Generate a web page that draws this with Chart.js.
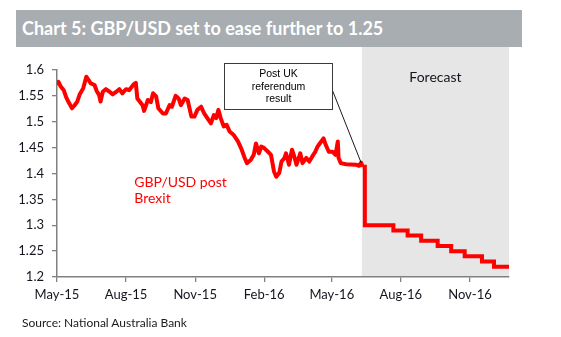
<!DOCTYPE html>
<html><head><meta charset="utf-8">
<script src="https://cdn.jsdelivr.net/npm/chart.js@4/dist/chart.umd.min.js"></script>
<style>
html,body{margin:0;padding:0;background:#fff;}
#wrap{position:relative;width:561px;height:337px;overflow:hidden;}
#title{position:absolute;left:16px;top:10px;width:506px;height:37px;background:#a7adb1;color:#fff;font-family:Lato,'Open Sans',sans-serif;font-weight:bold;font-size:18px;line-height:37px;padding-left:6px;box-sizing:border-box;white-space:nowrap;}
#source{position:absolute;left:22px;top:315px;font-family:Lato,sans-serif;font-size:12px;color:#1a1a1a;white-space:nowrap;}
canvas{position:absolute;left:0;top:0;}
</style></head>
<body>
<div id="wrap">
<canvas id="c" width="561" height="337"></canvas>
<div id="title">Chart 5: GBP/USD set to ease further to 1.25</div>
<div id="source">Source: National Australia Bank</div>
</div>
<script>
const histDates = ['2015-05-01','2015-05-03','2015-05-06','2015-05-10','2015-05-13','2015-05-16','2015-05-21','2015-05-24','2015-05-28','2015-05-31',
'2015-06-05','2015-06-09','2015-06-12','2015-06-15','2015-06-20','2015-06-23','2015-06-26','2015-06-28','2015-07-01','2015-07-05',
'2015-07-10','2015-07-14','2015-07-19','2015-07-23','2015-07-27','2015-08-01','2015-08-05','2015-08-11','2015-08-14','2015-08-16',
'2015-08-23','2015-08-25','2015-08-30','2015-09-03','2015-09-06','2015-09-10','2015-09-13','2015-09-19','2015-09-23','2015-09-28',
'2015-10-01','2015-10-06','2015-10-10','2015-10-13','2015-10-18','2015-10-22','2015-10-27','2015-10-31','2015-11-04','2015-11-09',
'2015-11-13','2015-11-19','2015-11-22','2015-11-26','2015-11-29','2015-12-02','2015-12-05','2015-12-09','2015-12-13','2015-12-17',
'2015-12-22','2015-12-28','2016-01-02','2016-01-06','2016-01-09','2016-01-14','2016-01-18','2016-01-21','2016-01-25','2016-01-28',
'2016-02-01','2016-02-06','2016-02-10','2016-02-14','2016-02-17','2016-02-21','2016-02-24','2016-02-28','2016-03-01','2016-03-05',
'2016-03-09','2016-03-12','2016-03-15','2016-03-20','2016-03-23','2016-03-28','2016-04-01','2016-04-05','2016-04-09','2016-04-12',
'2016-04-15','2016-04-20','2016-04-23','2016-04-27','2016-05-02','2016-05-06','2016-05-09','2016-05-10','2016-05-13','2016-05-20',
'2016-06-02','2016-06-06','2016-06-09','2016-06-11'];
const histValues = [1.571,1.577,1.568,1.561,1.548,1.539,1.526,1.531,1.539,1.552,
1.565,1.587,1.581,1.574,1.571,1.559,1.552,1.539,1.558,1.563,
1.558,1.553,1.558,1.563,1.555,1.563,1.561,1.572,1.575,1.545,
1.532,1.521,1.542,1.538,1.555,1.549,1.526,1.516,1.516,1.532,
1.529,1.550,1.545,1.532,1.545,1.542,1.510,1.510,1.523,1.529,
1.516,1.503,1.497,1.513,1.507,1.523,1.507,1.491,1.494,1.481,
1.475,1.462,1.446,1.430,1.420,1.426,1.436,1.458,1.439,1.452,
1.449,1.442,1.436,1.404,1.394,1.401,1.423,1.430,1.439,1.417,
1.446,1.433,1.417,1.439,1.420,1.430,1.423,1.433,1.442,1.452,
1.458,1.468,1.455,1.442,1.442,1.436,1.462,1.430,1.420,1.418,
1.417,1.415,1.421,1.413];
const forecastDates = ['2016-06-14','2016-07-22','2016-08-10','2016-08-28','2016-09-19','2016-10-07','2016-10-25','2016-11-17','2016-12-03','2016-12-23'];
const forecastValues = [1.30,1.29,1.28,1.27,1.26,1.25,1.24,1.23,1.22,1.22];
const xTickDates = ['2015-05-01','2015-08-01','2015-11-01','2016-02-01','2016-05-01','2016-08-01','2016-11-01'];
const xTickLabels = ['May-15','Aug-15','Nov-15','Feb-16','May-16','Aug-16','Nov-16'];
const xStart = '2015-05-01', xEnd = '2016-12-23';
const forecastStart = '2016-06-10';
const yMin = 1.2, yMax = 1.6, yStep = 0.05;
const seriesLabel = ['GBP/USD post', 'Brexit'];
const noteLines = ['Post UK', 'referendum', 'result'];
const forecastLabel = 'Forecast';

const base = Date.parse(xStart + 'T00:00:00Z');
const day = d => (Date.parse(d + 'T00:00:00Z') - base) / 86400000;

const histData = histDates.map((d, i) => ({x: day(d), y: histValues[i]}));
const fcData = [histData[histData.length - 1]].concat(forecastDates.map((d, i) => ({x: day(d), y: forecastValues[i]})));

const TXT = '#15151f';
const decor = {
  id: 'decor',
  beforeDraw(chart) {
    const {ctx, chartArea, scales} = chart;
    const x0 = scales.x.getPixelForValue(day(forecastStart));
    ctx.save();
    ctx.fillStyle = '#e6e6e6';
    ctx.fillRect(x0, chartArea.top - 23, chartArea.right - x0, chartArea.bottom - chartArea.top + 23);
    ctx.fillStyle = TXT;
    ctx.font = '14px Lato, sans-serif';
    ctx.textAlign = 'center';
    ctx.textBaseline = 'middle';
    ctx.fillText(forecastLabel, (x0 + chartArea.right) / 2, chartArea.top + 7);
    ctx.restore();
  },
  afterDatasetsDraw(chart) {
    const {ctx, scales} = chart;
    const xs = scales.x, ys = scales.y;
    ctx.save();
    ctx.fillStyle = '#ff0000';
    ctx.font = '14px Lato, sans-serif';
    ctx.textAlign = 'left';
    ctx.textBaseline = 'middle';
    const lx = xs.getPixelForValue(day('2015-08-12'));
    const ly = ys.getPixelForValue(1.382);
    seriesLabel.forEach((t, i) => ctx.fillText(t, lx, ly + i * 15.5));
    const cx = xs.getPixelForValue(day('2016-02-19'));
    const cy = ys.getPixelForValue(1.569);
    const bw = 108, bh = 46;
    const bx = Math.round(cx - bw / 2) + 0.5, by = Math.round(cy - bh / 2) + 0.5;
    const px = xs.getPixelForValue(day('2016-06-09'));
    const py = ys.getPixelForValue(1.421);
    ctx.strokeStyle = '#000';
    ctx.lineWidth = 0.9;
    ctx.beginPath();
    ctx.moveTo(bx + bw, by + 27);
    ctx.lineTo(px, py);
    ctx.stroke();
    ctx.fillStyle = '#fff';
    ctx.fillRect(bx, by, bw, bh);
    ctx.strokeStyle = '#3a3a3a';
    ctx.lineWidth = 1;
    ctx.strokeRect(bx, by, bw, bh);
    ctx.fillStyle = '#000';
    ctx.font = '10.5px "Liberation Sans", Arial, sans-serif';
    ctx.textAlign = 'center';
    noteLines.forEach((t, i) => ctx.fillText(t, bx + bw / 2, by + 11 + i * 12.5));
    ctx.restore();
  }
};

new Chart(document.getElementById('c'), {
  type: 'line',
  data: {
    datasets: [
      {data: histData, borderColor: '#ff0000', borderWidth: 4, pointRadius: 0, tension: 0, borderJoinStyle: 'round', fill: false},
      {data: fcData, borderColor: '#ff0000', borderWidth: 4, pointRadius: 0, stepped: 'before', fill: false}
    ]
  },
  options: {
    responsive: false,
    animation: false,
    layout: {padding: {top: 70, right: 52, left: 0, bottom: 0}},
    plugins: {legend: {display: false}, tooltip: {enabled: false}},
    scales: {
      x: {
        type: 'linear',
        min: day(xStart), max: day(xEnd),
        afterBuildTicks: s => { s.ticks = xTickDates.map(d => ({value: day(d)})); },
        afterFit: s => { s.height = 60; },
        grid: {drawOnChartArea: false, drawTicks: true, tickLength: 5, color: '#808080', lineWidth: 1.3},
        border: {color: '#808080', width: 1.5},
        ticks: {autoSkip: false, maxRotation: 0, padding: 5, color: TXT, font: {family: 'Lato', size: 13},
          callback: (v, i) => xTickLabels[i]}
      },
      y: {
        min: yMin, max: yMax,
        afterFit: s => { s.width = 57; },
        grid: {drawOnChartArea: false, drawTicks: true, tickLength: 5, color: '#808080', lineWidth: 1.3},
        border: {color: '#808080', width: 1.5},
        ticks: {stepSize: yStep, padding: 8, color: TXT, font: {family: 'Lato', size: 13},
          callback: v => String(Math.round(v * 100) / 100)}
      }
    }
  },
  plugins: [decor]
});
</script>
</body></html>
